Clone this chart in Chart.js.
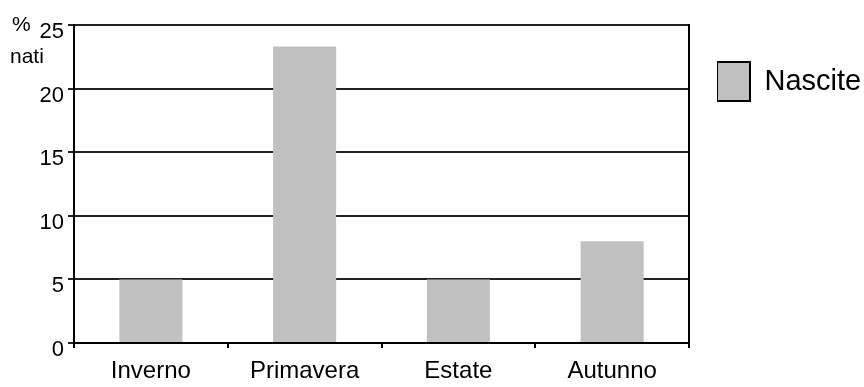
<!DOCTYPE html>
<html lang="it">
<head>
    <meta charset="UTF-8">
    <title>Nascite per stagione</title>
    <script src="https://cdn.jsdelivr.net/npm/chart.js"></script>
    <style>
        body { margin: 0; background: #fff; }
        #wrap { width: 864px; height: 387px; }
    </style>
</head>
<body>
    <div id="wrap"><canvas id="chart"></canvas></div>

    <script>
        // dati
        const stagioni = ['Inverno', 'Primavera', 'Estate', 'Autunno'];
        const nascite = [5, 23.3, 5, 8];
        const yTicks = [0, 5, 10, 15, 20, 25];

        const font = "'Liberation Sans', Arial, sans-serif";

        // etichetta "% nati" in alto a sinistra
        const unitaLabel = {
            id: 'unitaLabel',
            afterDraw(chart) {
                const ctx = chart.ctx;
                ctx.save();
                ctx.fillStyle = '#000';
                ctx.font = '21px ' + font;
                ctx.textAlign = 'left';
                ctx.textBaseline = 'alphabetic';
                ctx.fillText('%', 12, 31);
                ctx.fillText('nati', 10, 63);
                ctx.restore();
            }
        };

        new Chart(document.getElementById('chart'), {
            type: 'bar',
            data: {
                labels: stagioni,
                datasets: [{
                    label: 'Nascite',
                    data: nascite,
                    backgroundColor: '#c0c0c0',
                    borderWidth: 0,
                    categoryPercentage: 1,
                    barPercentage: 0.41
                }]
            },
            options: {
                responsive: true,
                maintainAspectRatio: false,
                animation: false,
                layout: { padding: { top: 25, left: 0, right: 0, bottom: 0 } },
                plugins: {
                    tooltip: { enabled: false },
                    legend: {
                        position: 'right',
                        align: 'start',
                        maxWidth: 147,
                        title: { display: true, text: '', font: { size: 1, lineHeight: 1 }, padding: { top: 36, bottom: 0 } },
                        labels: {
                            boxWidth: 33,
                            boxHeight: 39,
                            padding: 0,
                            color: '#000',
                            font: { family: font, size: 29 },
                            generateLabels: (chart) => [{
                                text: 'Nascite',
                                fillStyle: '#c0c0c0',
                                strokeStyle: '#000',
                                fontColor: '#000',
                                lineWidth: 2,
                                datasetIndex: 0
                            }]
                        }
                    }
                },
                scales: {
                    x: {
                        afterFit: (s) => { s.height = 44; },
                        border: { color: '#000', width: 2 },
                        grid: { offset: true, drawOnChartArea: false, color: '#000', tickLength: 5, lineWidth: 2 },
                        ticks: { color: '#000', padding: 9, font: { family: font, size: 24 } }
                    },
                    y: {
                        min: 0,
                        max: 25,
                        afterFit: (s) => { s.width = 74; },
                        afterBuildTicks: (s) => { s.ticks = yTicks.map(v => ({ value: v })); },
                        border: { color: '#000', width: 2 },
                        grid: { color: '#222', lineWidth: 2, tickLength: 6 },
                        ticks: { color: '#000', padding: 4, labelOffset: 7, font: { family: font, size: 22 } }
                    },
                    y2: {
                        position: 'right',
                        min: 0,
                        max: 25,
                        afterFit: (s) => { s.width = 28; },
                        border: { color: '#000', width: 2 },
                        grid: { drawOnChartArea: false, drawTicks: false },
                        ticks: { display: false }
                    }
                }
            },
            plugins: [unitaLabel]
        });
    </script>
</body>
</html>
